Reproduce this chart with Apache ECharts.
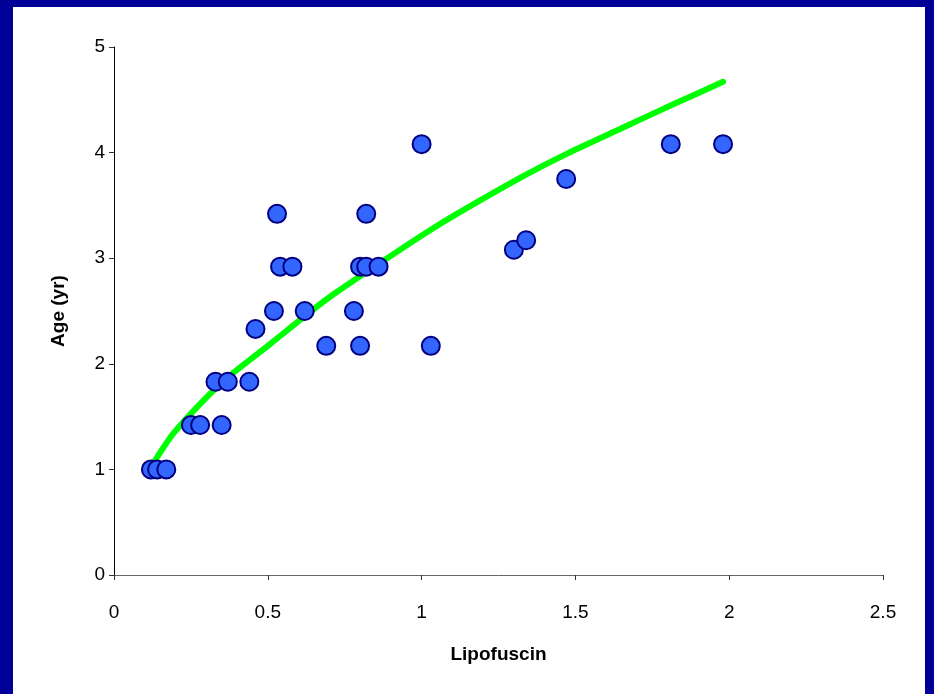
<!DOCTYPE html>
<html>
<head>
<meta charset="utf-8">
<script src="https://cdn.jsdelivr.net/npm/echarts@6/dist/echarts.min.js"></script>
<style>
  html, body { margin: 0; padding: 0; width: 934px; height: 694px; background: #000099; overflow: hidden; }
  #chart { position: absolute; left: 13px; top: 7px; width: 912px; height: 687px; background: #ffffff; }
</style>
</head>
<body>
<div id="chart"></div>
<script>
// Measured samples: lipofuscin level vs. age
const lipofuscin = [0.12, 0.14, 0.17, 0.25, 0.28, 0.35, 0.33, 0.37, 0.44, 0.46,
                    0.52, 0.62, 0.78, 0.69, 0.80, 1.03, 0.54, 0.58, 0.80, 0.82,
                    0.86, 0.53, 0.82, 1.00, 1.81, 1.98, 1.47, 1.30, 1.34];
const ageYears   = [1.00, 1.00, 1.00, 1.42, 1.42, 1.42, 1.83, 1.83, 1.83, 2.33,
                    2.50, 2.50, 2.50, 2.17, 2.17, 2.17, 2.92, 2.92, 2.92, 2.92,
                    2.92, 3.42, 3.42, 4.08, 4.08, 4.08, 3.75, 3.08, 3.17];

// Fitted trend line, sampled along its length
const trendX = [0.13, 0.19, 0.30, 0.39, 0.50, 0.59, 0.70, 1.03, 1.32, 1.48, 1.65, 1.82, 1.98];
const trendY = [1.07, 1.33, 1.68, 1.92, 2.17, 2.38, 2.63, 3.27, 3.76, 4.00, 4.23, 4.46, 4.67];

// Axis tick values
const xTicks = [0, 0.5, 1, 1.5, 2, 2.5];
const yTicks = [0, 1, 2, 3, 4, 5];

const points = lipofuscin.map((x, i) => [x, ageYears[i]]);
const trend = trendX.map((x, i) => [x, trendY[i]]);

const font = 'Arial, "Liberation Sans", sans-serif';
const chart = echarts.init(document.getElementById('chart'), null, { renderer: 'canvas' });

chart.setOption({
  animation: false,
  backgroundColor: '#ffffff',
  grid: { left: 101, right: 42, top: 40, bottom: 119 },
  xAxis: {
    type: 'value',
    min: xTicks[0], max: xTicks[xTicks.length - 1], interval: 0.5,
    name: 'Lipofuscin',
    nameLocation: 'middle',
    nameGap: 70,
    nameTextStyle: { fontFamily: font, fontSize: 19, fontWeight: 'bold', color: '#000' },
    axisLine: { show: true, onZero: false, lineStyle: { color: '#666', width: 1 } },
    axisTick: { show: true, inside: false, length: 5, lineStyle: { color: '#333' } },
    axisLabel: { fontFamily: font, fontSize: 19, color: '#000', margin: 28 },
    splitLine: { show: false }
  },
  yAxis: {
    type: 'value',
    min: yTicks[0], max: yTicks[yTicks.length - 1], interval: 1,
    name: 'Age (yr)',
    nameLocation: 'middle',
    nameGap: 46,
    nameRotate: 90,
    nameTextStyle: { fontFamily: font, fontSize: 19, fontWeight: 'bold', color: '#000' },
    axisLine: { show: true, onZero: false, lineStyle: { color: '#000', width: 1 } },
    axisTick: { show: true, inside: false, length: 5, lineStyle: { color: '#333' } },
    axisLabel: { fontFamily: font, fontSize: 19, color: '#000', margin: 9 },
    splitLine: { show: false }
  },
  series: [
    {
      type: 'line',
      data: trend,
      smooth: 0.2,
      symbol: 'none',
      lineStyle: { color: '#00ff00', width: 6, cap: 'round', join: 'round' },
      z: 2
    },
    {
      type: 'scatter',
      data: points,
      symbol: 'circle',
      symbolSize: 18,
      itemStyle: { color: '#3366ff', borderColor: '#000080', borderWidth: 2, opacity: 1 },
      z: 3
    }
  ]
});
</script>
</body>
</html>
